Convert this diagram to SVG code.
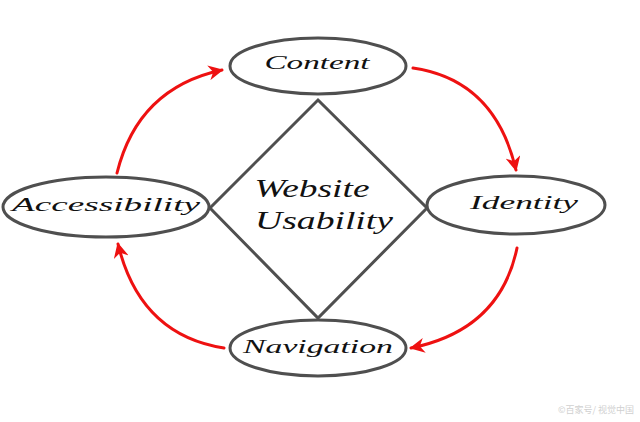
<svg xmlns="http://www.w3.org/2000/svg" width="640" height="422" viewBox="0 0 640 422">
<defs>
<style>
.node{fill:#fff;stroke:#4f4f4f;stroke-width:3}
.lbl{font-family:"Liberation Serif","DejaVu Serif",serif;font-style:italic;fill:#111;text-anchor:middle}
.arr{fill:none;stroke:#ee1111;stroke-width:3;stroke-linecap:round}
</style>
<marker id="ah" viewBox="0 0 10 10" refX="9" refY="5" markerWidth="5" markerHeight="5" orient="auto" markerUnits="strokeWidth">
<path d="M0,0 L10,5 L0,10 L3,5 Z" fill="#ee1111"/>
</marker>
</defs>
<rect width="640" height="422" fill="#fff"/>
<g id="center">
<polygon class="node" points="318,100 427,208 318,318 210,208"/>
<text class="lbl" x="312" y="197" font-size="26" textLength="115" lengthAdjust="spacingAndGlyphs">Website</text>
<text class="lbl" x="324" y="229" font-size="26" textLength="138" lengthAdjust="spacingAndGlyphs">Usability</text>
</g>
<g id="content">
<ellipse class="node" cx="318" cy="66" rx="88" ry="28"/>
<text class="lbl" x="317" y="69" font-size="19" textLength="105" lengthAdjust="spacingAndGlyphs">Content</text>
</g>
<g id="accessibility">
<ellipse class="node" cx="106" cy="207" rx="103" ry="30"/>
<text class="lbl" x="106" y="211" font-size="19" textLength="188" lengthAdjust="spacingAndGlyphs">Accessibility</text>
</g>
<g id="identity">
<ellipse class="node" cx="516" cy="205" rx="89" ry="29"/>
<text class="lbl" x="524" y="209" font-size="19" textLength="108" lengthAdjust="spacingAndGlyphs">Identity</text>
</g>
<g id="navigation">
<ellipse class="node" cx="318" cy="348" rx="88" ry="28"/>
<text class="lbl" x="318" y="353" font-size="19" textLength="150" lengthAdjust="spacingAndGlyphs">Navigation</text>
</g>
<g id="connectors">
<path class="arr" d="M117,173 Q138,88 222,70" marker-end="url(#ah)"/>
<path class="arr" d="M413,68 Q495,80 516,170" marker-end="url(#ah)"/>
<path class="arr" d="M517,248 Q500,330 411,348" marker-end="url(#ah)"/>
<path class="arr" d="M224,348 Q140,335 118,244" marker-end="url(#ah)"/>
</g>
<text x="634" y="413" font-family="'Noto Sans CJK SC',sans-serif" font-size="9" fill="#d0d0d0" text-anchor="end">©百家号/ 视觉中国</text>
</svg>
